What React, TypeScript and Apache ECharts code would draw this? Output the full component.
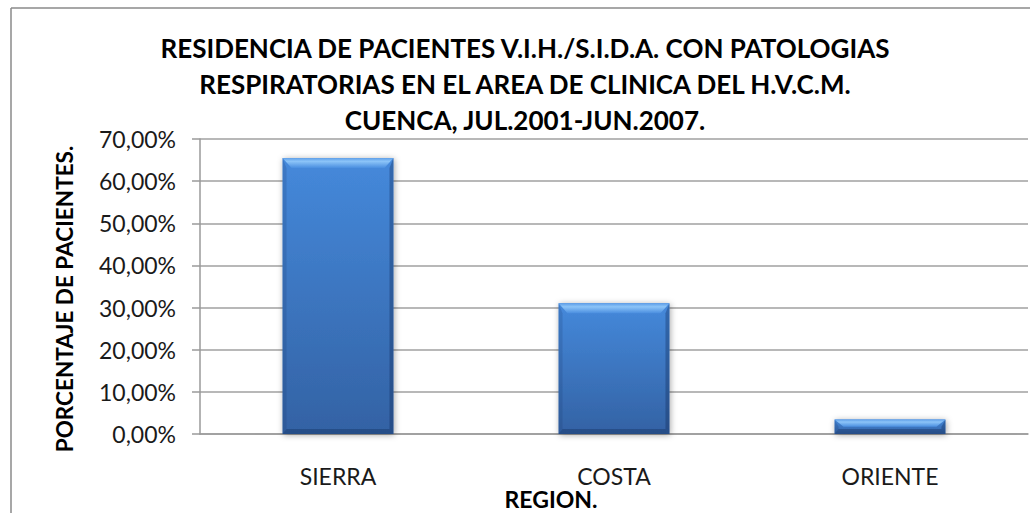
import React, { useEffect, useRef } from "react";
import * as echarts from "echarts";

const categories = ["SIERRA", "COSTA", "ORIENTE"];
const percentages = [65.52, 31.03, 3.45];
const titleLines = [
  "RESIDENCIA DE PACIENTES V.I.H./S.I.D.A. CON PATOLOGIAS",
  "RESPIRATORIAS EN EL AREA DE CLINICA DEL H.V.C.M.",
  "CUENCA, JUL.2001-JUN.2007.",
];
const yAxisTitle = "PORCENTAJE DE PACIENTES.";
const xAxisTitle = "REGION.";
const yMin = 0;
const yMax = 70;
const yStep = 10;

const FONT = "Lato";

function fmtPct(v: number): string {
  return v.toFixed(2).replace(".", ",") + "%";
}

export default function App() {
  const ref = useRef<HTMLDivElement | null>(null);
  useEffect(() => {
    if (!ref.current) return;
    const chart = echarts.init(ref.current, null, { renderer: "svg" });
    const option: any = {
      animation: false,
      backgroundColor: "#ffffff",
      grid: { left: 200, right: 2, top: 139, bottom: 79, containLabel: false },
      xAxis: {
        type: "category",
        data: categories,
        axisLine: { show: true, lineStyle: { color: "#9a9a9a", width: 1.5 } },
        axisTick: { show: false },
        axisLabel: { margin: 30, fontSize: 23, fontFamily: FONT, color: "#1a1a1a" },
      },
      yAxis: {
        type: "value",
        min: yMin,
        max: yMax,
        interval: yStep,
        axisLine: { show: true, lineStyle: { color: "#9a9a9a", width: 1.5 } },
        axisTick: { show: true, inside: false, length: 8, lineStyle: { color: "#9a9a9a", width: 1.5 } },
        splitLine: { show: true, lineStyle: { color: "#a0a0a0", width: 1.5 } },
        axisLabel: { margin: 24, fontSize: 23, fontFamily: FONT, color: "#1a1a1a", formatter: fmtPct },
      },
      graphic: [
        { type: "line", silent: true, shape: { x1: 11, y1: 8, x2: 1030, y2: 8 }, style: { stroke: "#8a8a8a", lineWidth: 1.5 } },
        { type: "line", silent: true, shape: { x1: 11, y1: 8, x2: 11, y2: 513 }, style: { stroke: "#8a8a8a", lineWidth: 1.5 } },
        ...titleLines.map((t, i) => ({
          type: "text",
          x: 525,
          y: 47.5 + i * 36.3,
          style: {
            text: t,
            fontFamily: FONT,
            fontWeight: "bold",
            fontSize: 26,
            fill: "#000",
            textAlign: "center",
            textVerticalAlign: "middle",
          },
        })),
        {
          type: "text",
          x: 64.7,
          y: 299,
          rotation: Math.PI / 2,
          style: {
            text: yAxisTitle,
            fontFamily: FONT,
            fontWeight: "bold",
            fontSize: 22.5,
            fill: "#000",
            textAlign: "center",
            textVerticalAlign: "middle",
          },
        },
        {
          type: "text",
          x: 551,
          y: 499,
          style: {
            text: xAxisTitle,
            fontFamily: FONT,
            fontWeight: "bold",
            fontSize: 23,
            fill: "#000",
            textAlign: "center",
            textVerticalAlign: "middle",
          },
        },
      ],
      series: [
        {
          type: "custom",
          data: percentages.map((v, i) => [i, v]),
          encode: { x: 0, y: 1 },
          renderItem: (params: any, api: any) => {
            const idx = api.value(0);
            const val = api.value(1);
            const top = api.coord([idx, val]);
            const base = api.coord([idx, 0]);
            const w = api.size([1, 0])[0] * 0.402;
            const x0 = top[0] - w / 2;
            const x1 = top[0] + w / 2;
            const y0 = top[1];
            const y1 = base[1];
            const h = y1 - y0;
            const bt = Math.min(10, h / 2);
            const bs = Math.min(4, h / 2);
            const bb = Math.min(5, h / 2);
            return {
              type: "group",
              children: [
                {
                  type: "rect",
                  shape: { x: x0, y: y0, width: w, height: h },
                  style: {
                    fill: new echarts.graphic.LinearGradient(0, 0, 0, 1, [
                      { offset: 0, color: "#4589db" },
                      { offset: 1, color: "#3362a4" },
                    ]),
                    shadowBlur: 6,
                    shadowColor: "rgba(0,0,0,0.35)",
                    shadowOffsetX: 1,
                    shadowOffsetY: 1,
                  },
                },
                {
                  type: "polygon",
                  shape: { points: [[x0, y0], [x0 + bs, y0 + bt], [x0 + bs, y1 - bb], [x0, y1]] },
                  style: { fill: "rgba(20,50,100,0.18)" },
                },
                {
                  type: "polygon",
                  shape: { points: [[x1, y0], [x1 - bs, y0 + bt], [x1 - bs, y1 - bb], [x1, y1]] },
                  style: { fill: "rgba(10,30,70,0.3)" },
                },
                {
                  type: "polygon",
                  shape: { points: [[x0, y1], [x0 + bs, y1 - bb], [x1 - bs, y1 - bb], [x1, y1]] },
                  style: { fill: "rgba(10,30,70,0.3)" },
                },
                {
                  type: "polygon",
                  shape: { points: [[x0, y0], [x1, y0], [x1 - bs - 5, y0 + bt], [x0 + bs + 5, y0 + bt]] },
                  style: {
                    fill: new echarts.graphic.LinearGradient(0, 0, 0, 1, [
                      { offset: 0, color: "#5d9ee8" },
                      { offset: 0.35, color: "#8cc4f8" },
                      { offset: 1, color: "#4b8fe0" },
                    ]),
                  },
                },
              ],
            };
          },
        },
      ],
    };
    chart.setOption(option);
    return () => chart.dispose();
  }, []);
  return (
    <div
      ref={ref}
      style={{ position: "fixed", left: 0, top: 0, width: 1030, height: 513, background: "#fff" }}
    />
  );
}
